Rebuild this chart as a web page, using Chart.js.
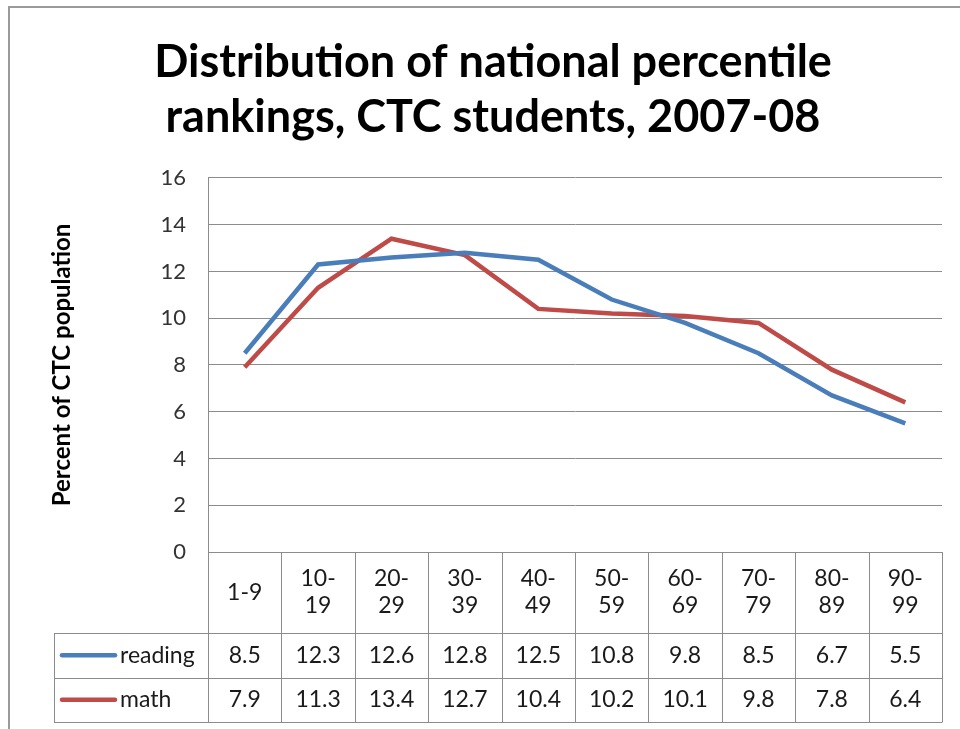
<!DOCTYPE html>
<html><head><meta charset="utf-8">
<script src="https://cdn.jsdelivr.net/npm/chart.js@4"></script>
<style>html,body{margin:0;padding:0;background:#fff;} #wrap{width:960px;height:729px;position:relative}</style>
</head><body><div id="wrap"><canvas id="c" width="960" height="729" style="width:960px;height:729px"></canvas></div>
<script>
const titleLines = ["Distribution of national percentile", "rankings, CTC students, 2007-08"];
const yAxisTitle = "Percent of CTC population";
const categories = [["1-9"],["10-","19"],["20-","29"],["30-","39"],["40-","49"],["50-","59"],["60-","69"],["70-","79"],["80-","89"],["90-","99"]];
const seriesNames = ["reading", "math"];
const readingValues = [8.5, 12.3, 12.6, 12.8, 12.5, 10.8, 9.8, 8.5, 6.7, 5.5];
const mathValues = [7.9, 11.3, 13.4, 12.7, 10.4, 10.2, 10.1, 9.8, 7.8, 6.4];
const seriesColors = ["#4A7EBB", "#BE4B48"];
const yMin = 0, yMax = 16, yStep = 2;

const FONT = "Lato, 'Open Sans', sans-serif";
const GRID = "#8c8c8c";
const TEXT = "#1a1a1a";

const tablePlugin = {
  id: 'dataTable',
  beforeDraw(chart) {
    const ctx = chart.ctx;
    ctx.save();
    ctx.fillStyle = '#fff';
    ctx.fillRect(0, 0, chart.width, chart.height);
    ctx.strokeStyle = '#9a9a9a';
    ctx.lineWidth = 2;
    ctx.beginPath();
    ctx.moveTo(9, chart.height); ctx.lineTo(9, 7); ctx.lineTo(chart.width, 7);
    ctx.stroke();
    ctx.restore();
  },
  afterDraw(chart) {
    const ctx = chart.ctx, xs = chart.scales.x, area = chart.chartArea;
    const n = categories.length;
    const half = (xs.getPixelForValue(1) - xs.getPixelForValue(0)) / 2;
    const top = area.bottom;
    const headerBottom = top + 81;
    const rowH = 44.5;
    const tableBottom = headerBottom + rowH * 2;
    const legendLeft = 54;
    ctx.save();
    ctx.strokeStyle = GRID;
    ctx.lineWidth = 1;
    ctx.beginPath();
    for (let i = 0; i <= n; i++) {
      const x = Math.round(i < n ? xs.getPixelForValue(i) - half : xs.getPixelForValue(n - 1) + half) + 0.5;
      ctx.moveTo(x, top); ctx.lineTo(x, tableBottom);
    }
    ctx.moveTo(legendLeft + 0.5, headerBottom); ctx.lineTo(legendLeft + 0.5, tableBottom);
    const right = Math.round(xs.getPixelForValue(n - 1) + half) + 0.5;
    [headerBottom, headerBottom + rowH, tableBottom].forEach(y => {
      const yy = Math.round(y) + 0.5;
      ctx.moveTo(legendLeft, yy); ctx.lineTo(right, yy);
    });
    ctx.stroke();

    ctx.fillStyle = TEXT;
    ctx.font = "23px " + FONT;
    ctx.textAlign = 'center';
    ctx.textBaseline = 'middle';
    const hc = (top + headerBottom) / 2;
    categories.forEach((lines, i) => {
      const x = xs.getPixelForValue(i);
      const lh = 27;
      lines.forEach((t, k) => {
        ctx.fillText(t, x, hc + (k - (lines.length - 1) / 2) * lh);
      });
    });
    const series = [readingValues, mathValues];
    series.forEach((vals, r) => {
      const cy = headerBottom + rowH * r + rowH / 2;
      ctx.fillStyle = TEXT;
      ctx.textAlign = 'center';
      vals.forEach((v, i) => ctx.fillText(v.toFixed(1), xs.getPixelForValue(i), cy));
      ctx.strokeStyle = seriesColors[r];
      ctx.lineWidth = 4.5;
      ctx.lineCap = 'round';
      ctx.beginPath();
      ctx.moveTo(62, cy); ctx.lineTo(115, cy);
      ctx.stroke();
      ctx.textAlign = 'left';
      ctx.fillText(seriesNames[r], 120, cy);
    });
    ctx.restore();
  }
};

new Chart(document.getElementById('c'), {
  type: 'line',
  data: {
    labels: categories.map(c => c.join('')),
    datasets: [
      { label: seriesNames[0], data: readingValues, borderColor: seriesColors[0], backgroundColor: seriesColors[0], borderWidth: 4.5, pointRadius: 0, tension: 0 },
      { label: seriesNames[1], data: mathValues, borderColor: seriesColors[1], backgroundColor: seriesColors[1], borderWidth: 4.5, pointRadius: 0, tension: 0 }
    ]
  },
  options: {
    responsive: false,
    animation: false,
    devicePixelRatio: 1,
    layout: { padding: { left: 44, right: 18, top: 0, bottom: 177 } },
    plugins: {
      legend: { display: false },
      tooltip: { enabled: false },
      title: {
        display: true,
        text: titleLines,
        color: '#000',
        font: { family: FONT, size: 45, weight: 'bold', lineHeight: 1.244 },
        padding: { top: 34, bottom: 32 }
      }
    },
    scales: {
      x: { type: 'category', offset: true, display: false },
      y: {
        min: yMin, max: yMax,
        ticks: { stepSize: yStep, color: '#333', font: { family: FONT, size: 22 }, padding: 22 },
        grid: { color: GRID, drawTicks: false, lineWidth: 1 },
        border: { color: GRID, width: 1 },
        title: { display: true, text: yAxisTitle, color: '#000', font: { family: FONT, size: 24, weight: 'bold' } },
        afterFit(scale) { scale.width = 164; }
      }
    }
  },
  plugins: [tablePlugin]
});
</script>
</body></html>
